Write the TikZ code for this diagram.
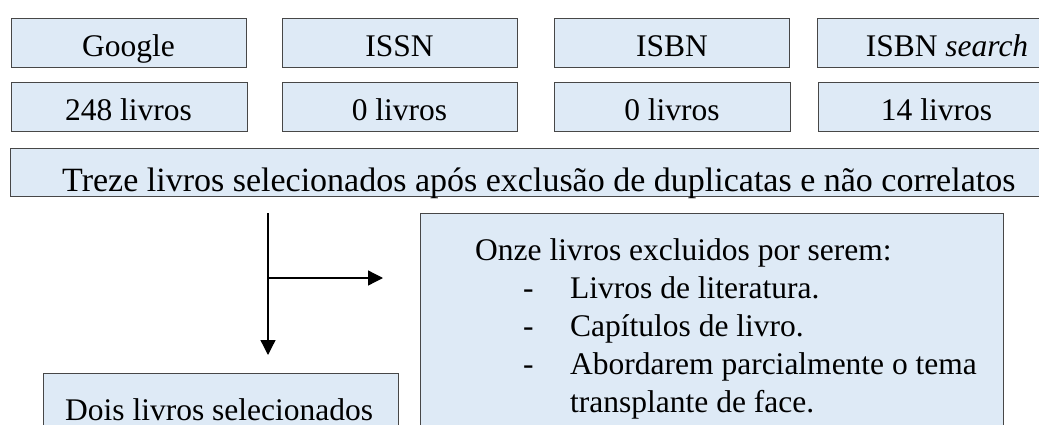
\documentclass[tikz,border=0pt]{standalone}
\usepackage{fontspec}
\setmainfont{Liberation Serif}
\usetikzlibrary{arrows.meta}
\definecolor{boxfill}{HTML}{DEEAF6}
\definecolor{boxline}{HTML}{474747}
\begin{document}
\begin{tikzpicture}[x=1pt,y=-1pt,
  box/.style={draw=boxline, fill=boxfill, line width=1.4pt, rectangle, inner sep=0pt, anchor=north west},
  txt/.style={inner sep=0pt, anchor=base, font=\fontsize{31.5}{38}\selectfont},
  txtw/.style={inner sep=0pt, anchor=base west, font=\fontsize{31.5}{38}\selectfont},
  conn/.style={line width=1.3pt, draw=black},
  arr/.style={conn, -{Triangle[length=15pt,width=15pt]}}]
\useasboundingbox (0,0) rectangle (1039,425);
\clip (0,0) rectangle (1039,425);
% row 1
\node[box, minimum width=235pt, minimum height=49pt] (b11) at (11,18) {};
\node[box, minimum width=235pt, minimum height=49pt] (b12) at (282,18) {};
\node[box, minimum width=235pt, minimum height=49pt] (b13) at (554,18) {};
\node[box, minimum width=260pt, minimum height=49pt] (b14) at (817,18) {};
\node[txt] (t11) at (128.5,57) {Google};
\node[txt] (t12) at (399.5,57) {ISSN};
\node[txt] (t13) at (672,57) {ISBN};
\node[txt] (t14) at (947,57) {ISBN \textit{search}};
% row 2
\node[box, minimum width=236pt, minimum height=49pt] (b21) at (11,82) {};
\node[box, minimum width=235pt, minimum height=49pt] (b22) at (282,82) {};
\node[box, minimum width=236pt, minimum height=49pt] (b23) at (554,82) {};
\node[box, minimum width=240pt, minimum height=49pt] (b24) at (818,82) {};
\node[txt] (t21) at (128.5,121) {248 livros};
\node[txt] (t22) at (399.5,121) {0 livros};
\node[txt] (t23) at (672,121) {0 livros};
\node[txt] (t24) at (936.5,121) {14 livros};
% row 3
\node[box, minimum width=1040pt, minimum height=48pt] (b3) at (10,148) {};
\node[txtw, font=\fontsize{34}{38}\selectfont] (t3) at (62,192) {Treze livros selecionados após exclusão de duplicatas e não correlatos};
% excluded box
\node[box, minimum width=583pt, minimum height=240pt] (bex) at (420,213) {};
\node[txtw] (ex0) at (475,260) {Onze livros excluidos por serem:};
\node[txtw] (d1) at (523,298) {-};
\node[txtw] (ex1) at (570,298) {Livros de literatura.};
\node[txtw] (d2) at (523,336) {-};
\node[txtw] (ex2) at (570,336) {Capítulos de livro.};
\node[txtw] (d3) at (523,374) {-};
\node[txtw] (ex3) at (570,374) {Abordarem parcialmente o tema};
\node[txtw] (ex4) at (570,412) {transplante de face.};
% selected box
\node[box, minimum width=355pt, minimum height=100pt] (bsel) at (43,373) {};
\node[txtw, text depth=0pt] (tsel) at (65,420) {Dois livros selecionados};
% connectors
\coordinate (vtop) at (268,213);
\coordinate (split) at (268,278);
\coordinate (vend) at (268,355);
\coordinate (hend) at (383,278);
\draw[arr] (vtop) -- (vend);
\draw[arr] (split) -- (hend);
\end{tikzpicture}
\end{document}
